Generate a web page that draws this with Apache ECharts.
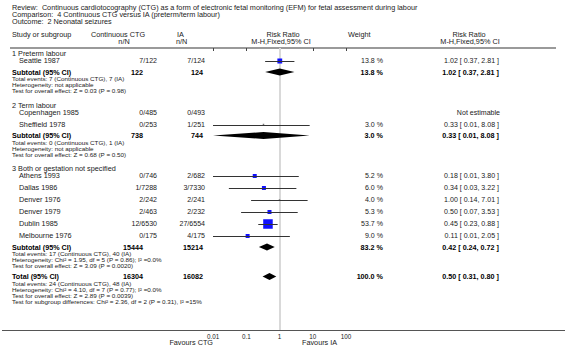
<!DOCTYPE html>
<html>
<head>
<meta charset="utf-8">
<script src="https://cdn.jsdelivr.net/npm/echarts@6/dist/echarts.min.js"></script>
<style>
  html, body { margin: 0; padding: 0; background: #fff; }
  #main { width: 566px; height: 348px; }
</style>
</head>
<body>
<div id="main"></div>
<script>
  // ---- data ----
  const titleLines = [
    'Review:  Continuous cardiotocography (CTG) as a form of electronic fetal monitoring (EFM) for fetal assessment during labour',
    'Comparison:  4 Continuous CTG versus IA (preterm/term labour)',
    'Outcome:  2 Neonatal seizures'
  ];
  const groupLabels = ['1 Preterm labour', '2 Term labour', '3 Both or gestation not specified'];

  const studyNames = ['Seattle 1987', 'Copenhagen 1985', 'Sheffield 1978', 'Athens 1993', 'Dallas 1986',
    'Denver 1976', 'Denver 1979', 'Dublin 1985', 'Melbourne 1976'];
  const studyGroup = [0, 1, 1, 2, 2, 2, 2, 2, 2];
  const ctgEvents = [7, 0, 0, 0, 1, 2, 2, 12, 0];
  const ctgTotal = [122, 485, 253, 746, 7288, 242, 463, 6530, 175];
  const iaEvents = [7, 0, 1, 2, 3, 2, 2, 27, 4];
  const iaTotal = [124, 493, 251, 682, 7330, 241, 232, 6554, 175];
  const studyWeight = [13.8, null, 3.0, 5.2, 6.0, 4.0, 5.3, 53.7, 9.0];
  const studyRR = [1.02, null, 0.33, 0.18, 0.34, 1.00, 0.50, 0.45, 0.11];
  const studyLow = [0.37, null, 0.01, 0.01, 0.03, 0.14, 0.07, 0.23, 0.01];
  const studyHigh = [2.81, null, 8.08, 3.80, 3.22, 7.01, 3.53, 0.88, 2.05];

  const subCtg = [122, 738, 15444];
  const subIa = [124, 744, 15214];
  const subWeight = [13.8, 3.0, 83.2];
  const subRR = [1.02, 0.33, 0.42];
  const subLow = [0.37, 0.01, 0.24];
  const subHigh = [2.81, 8.08, 0.72];
  const subNotes = [
    ['Total events: 7 (Continuous CTG), 7 (IA)', 'Heterogeneity: not applicable', 'Test for overall effect: Z = 0.03 (P = 0.98)'],
    ['Total events: 0 (Continuous CTG), 1 (IA)', 'Heterogeneity: not applicable', 'Test for overall effect: Z = 0.68 (P = 0.50)'],
    ['Total events: 17 (Continuous CTG), 40 (IA)', 'Heterogeneity: Chi\u00b2 = 1.95, df = 5 (P = 0.86); I\u00b2 =0.0%', 'Test for overall effect: Z = 3.09 (P = 0.0020)']
  ];

  const totalCtg = 16304;
  const totalIa = 16082;
  const totalWeight = 100.0;
  const totalRR = 0.50, totalLow = 0.31, totalHigh = 0.80;
  const totalNotes = [
    'Total events: 24 (Continuous CTG), 48 (IA)',
    'Heterogeneity: Chi\u00b2 = 4.10, df = 7 (P = 0.77); I\u00b2 =0.0%',
    'Test for overall effect: Z = 2.89 (P = 0.0039)',
    'Test for subgroup differences: Chi\u00b2 = 2.36, df = 2 (P = 0.31), I\u00b2 =15%'
  ];

  const tickLabels = ['0.01', '0.1', '1', '10', '100'];

  // ---- row layout (vertical spacing between row kinds) ----
  const GAP = {
    'start-group': 6, 'group-study': 7, 'study-study': 12, 'study-subtotal': 11,
    'subtotal-note': 7, 'note-note': 6, 'note-group': 14.5, 'note-total': 10.5, 'total-note': 7
  };
  const rows = [];
  let cursor = 0, prevKind = 'start';
  function addRow(kind, info) {
    cursor += GAP[prevKind + '-' + kind];
    rows.push(Object.assign({ kind: kind, y: cursor }, info));
    prevKind = kind;
  }
  groupLabels.forEach(function (g, gi) {
    addRow('group', { text: g });
    studyNames.forEach(function (s, i) { if (studyGroup[i] === gi) addRow('study', { i: i }); });
    addRow('subtotal', { g: gi });
    subNotes[gi].forEach(function (t) { addRow('note', { text: t }); });
  });
  addRow('total', {});
  totalNotes.forEach(function (t) { addRow('note', { text: t }); });

  const studyData = rows.filter(function (r) { return r.kind === 'study' && studyRR[r.i] != null; })
    .map(function (r) { return [studyRR[r.i], studyLow[r.i], studyHigh[r.i], r.y, studyWeight[r.i]]; });
  const diamondData = rows.filter(function (r) { return r.kind === 'subtotal' || r.kind === 'total'; })
    .map(function (r) {
      return r.kind === 'total' ? [totalRR, totalLow, totalHigh, r.y] : [subRR[r.g], subLow[r.g], subHigh[r.g], r.y];
    });

  const FONT = '"Liberation Sans", Arial, Helvetica, sans-serif';
  const REG = 6.8, NUM = 6.6, NOTE = 5.9, BOLD = 7.2;
  const SX = 1.07;     // the source font runs a little wider than Arial
  const INK = '#1a1a1a';

  let myChart = echarts.init(document.getElementById('main'), null, { renderer: 'svg' });

  let option = {
    animation: false,
    grid: { left: 213, right: 220, top: 48, bottom: 18 },
    xAxis: {
      type: 'log',
      logBase: 10,
      min: 0.01,
      max: 100,
      axisLine: { show: false },
      axisTick: { show: true, length: 3, lineStyle: { color: '#444', width: 1 } },
      axisLabel: {
        fontSize: 6.3, color: INK, margin: 3, fontFamily: FONT,
        formatter: function (v, idx) { return tickLabels[idx]; }
      },
      splitLine: { show: false }
    },
    yAxis: {
      type: 'value', inverse: true, min: 0, max: 282, show: false
    },
    series: [
      { // line of no effect
        type: 'custom',
        data: [[1]],
        z: 1,
        renderItem: function (params, api) {
          const cs = params.coordSys;
          const x = Math.round(api.coord([api.value(0), 0])[0]);
          return {
            type: 'line',
            shape: { x1: x, y1: cs.y, x2: x, y2: cs.y + cs.height },
            style: { stroke: '#d9d9d9', lineWidth: 2 }
          };
        }
      },
      { // individual studies: square + CI line
        type: 'custom',
        data: studyData,
        z: 3,
        renderItem: function (params, api) {
          const y = api.value(3);
          const p = api.coord([api.value(0), y]);
          const lo = api.coord([api.value(1), y]);
          const hi = api.coord([api.value(2), y]);
          const w = api.value(4);
          const s = w < 5 ? 1.5 : Math.max(4, Math.sqrt(w) * 1.3);
          const ly = Math.round(p[1]) + 0.5;
          return {
            type: 'group',
            children: [
              { type: 'rect', shape: { x: p[0] - s / 2, y: p[1] - s / 2, width: s, height: s },
                style: { fill: w < 5 ? '#777' : '#1010ff' } },
              { type: 'line', shape: { x1: lo[0], y1: ly, x2: hi[0], y2: ly },
                style: { stroke: '#333', lineWidth: 1 } }
            ]
          };
        }
      },
      { // subtotal & total diamonds
        type: 'custom',
        data: diamondData,
        z: 4,
        renderItem: function (params, api) {
          const y = api.value(3);
          const p = api.coord([api.value(0), y]);
          const lo = api.coord([api.value(1), y]);
          const hi = api.coord([api.value(2), y]);
          const h = 3.5;
          return {
            type: 'polygon',
            shape: { points: [[lo[0], p[1]], [p[0], p[1] - h], [hi[0], p[1]], [p[0], p[1] + h]] },
            style: { fill: '#000' }
          };
        }
      }
    ]
  };
  myChart.setOption(option);

  // ---- table texts, aligned on the same y axis ----
  function py(v) { return myChart.convertToPixel({ yAxisIndex: 0 }, v); }
  function txt(x, y, text, align, size, bold) {
    return {
      type: 'text', x: x, y: y, silent: true, scaleX: bold ? 1 : SX,
      style: {
        text: text, fill: bold ? '#000' : INK, fontSize: size, fontWeight: bold ? 'bold' : 'normal', fontFamily: FONT,
        align: align, textAlign: align, verticalAlign: 'middle', textVerticalAlign: 'middle'
      }
    };
  }
  function rrText(r, lo, hi) { return r.toFixed(2) + ' [ ' + lo.toFixed(2) + ', ' + hi.toFixed(2) + ' ]'; }

  const gridBottom = py(282);
  let g = [];
  titleLines.forEach(function (t, k) { g.push(txt(12, 8 + k * 7, t, 'left', REG)); });

  // header
  g.push(txt(12, 35, 'Study or subgroup', 'left', REG));
  g.push(txt(118, 35, 'Continuous CTG', 'center', REG));
  g.push(txt(124, 42, 'n/N', 'center', REG));
  g.push(txt(177, 35, 'IA', 'left', REG));
  g.push(txt(176, 42, 'n/N', 'left', REG));
  g.push(txt(283, 35, 'Risk Ratio', 'center', REG));
  g.push(txt(281, 42, 'M-H,Fixed,95% CI', 'center', REG));
  g.push(txt(348, 35, 'Weight', 'left', REG));
  g.push(txt(469, 35, 'Risk Ratio', 'center', REG));
  g.push(txt(470, 42, 'M-H,Fixed,95% CI', 'center', REG));
  g.push({ type: 'line', silent: true, shape: { x1: 10, y1: 48, x2: 556, y2: 48 }, style: { stroke: '#9a9a9a', lineWidth: 2 } });

  rows.forEach(function (r) {
    const y = py(r.y);
    if (r.kind === 'group') {
      g.push(txt(12, y, r.text, 'left', REG));
    } else if (r.kind === 'note') {
      g.push(txt(12, y, r.text, 'left', NOTE));
    } else if (r.kind === 'study') {
      const i = r.i;
      g.push(txt(19, y, studyNames[i], 'left', REG));
      g.push(txt(157, y, ctgEvents[i] + '/' + ctgTotal[i], 'right', NUM));
      g.push(txt(205, y, iaEvents[i] + '/' + iaTotal[i], 'right', NUM));
      if (studyRR[i] == null) {
        g.push(txt(500, y, 'Not estimable', 'right', NUM));
      } else {
        g.push(txt(383, y, studyWeight[i].toFixed(1) + ' %', 'right', NUM));
        g.push(txt(499, y, rrText(studyRR[i], studyLow[i], studyHigh[i]), 'right', NUM));
      }
    } else if (r.kind === 'subtotal') {
      g.push(txt(12, y, 'Subtotal (95% CI)', 'left', BOLD, true));
      g.push(txt(143, y, String(subCtg[r.g]), 'right', BOLD, true));
      g.push(txt(203, y, String(subIa[r.g]), 'right', BOLD, true));
      g.push(txt(383, y, subWeight[r.g].toFixed(1) + ' %', 'right', BOLD, true));
      g.push(txt(499, y, rrText(subRR[r.g], subLow[r.g], subHigh[r.g]), 'right', BOLD, true));
    } else if (r.kind === 'total') {
      g.push(txt(12, y, 'Total (95% CI)', 'left', BOLD, true));
      g.push(txt(143, y, String(totalCtg), 'right', BOLD, true));
      g.push(txt(203, y, String(totalIa), 'right', BOLD, true));
      g.push(txt(383, y, totalWeight.toFixed(1) + ' %', 'right', BOLD, true));
      g.push(txt(499, y, rrText(totalRR, totalLow, totalHigh), 'right', BOLD, true));
    }
  });

  // bottom rule and favours labels
  g.push({ type: 'line', silent: true, shape: { x1: 2, y1: gridBottom + 0.5, x2: 565, y2: gridBottom + 0.5 }, style: { stroke: '#555', lineWidth: 1 } });
  g.push(txt(213, gridBottom + 12.5, 'Favours CTG', 'right', REG));
  g.push(txt(302, gridBottom + 12.5, 'Favours IA', 'left', REG));

  myChart.setOption({ graphic: g });
</script>
</body>
</html>
